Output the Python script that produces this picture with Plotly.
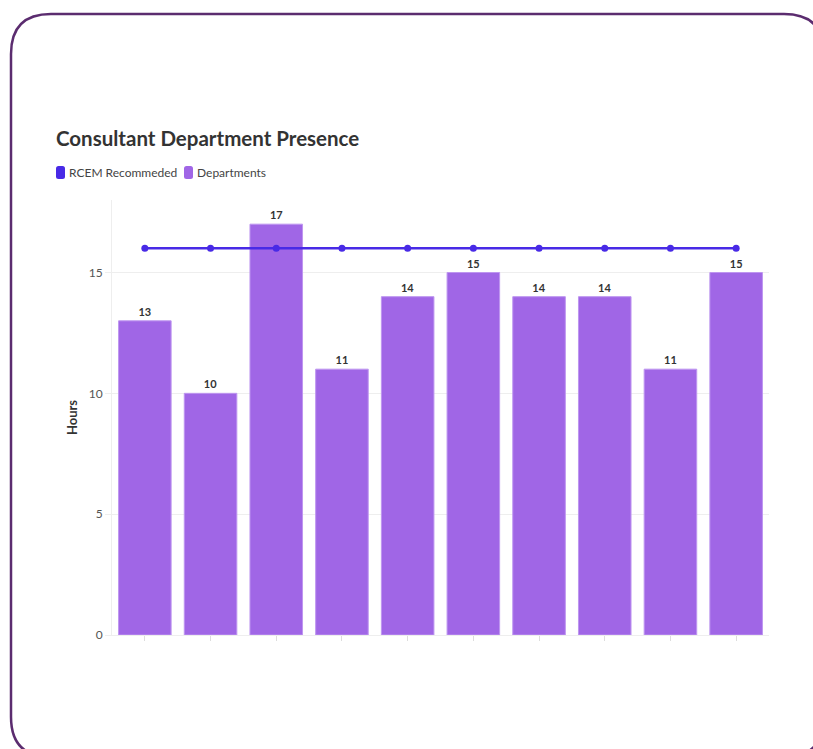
import plotly.graph_objects as go

# Consultant presence per department (hours) and the RCEM recommendation
departments = ["Dept 1", "Dept 2", "Dept 3", "Dept 4", "Dept 5",
               "Dept 6", "Dept 7", "Dept 8", "Dept 9", "Dept 10"]
hours = [13, 10, 17, 11, 14, 15, 14, 14, 11, 15]
rcem_recommended = [16, 16, 16, 16, 16, 16, 16, 16, 16, 16]

W, H = 813, 749
L, R, T, B = 112, 44, 200, 114
PW, PH = W - L - R, H - T - B

BAR_COLOR = "rgb(160,102,230)"
LINE_COLOR = "rgb(72,42,230)"
FONT = "Lato"


def px(x):
    return (x - L) / PW


def py(y):
    return (H - B - y) / PH


def rounded_rect(x0, y0, x1, y1, r):
    # rounded rectangle path in paper coordinates, from pixel corners
    pts = [
        f"M {px(x0 + r)},{py(y0)}",
        f"L {px(x1 - r)},{py(y0)}",
        f"Q {px(x1)},{py(y0)} {px(x1)},{py(y0 + r)}",
        f"L {px(x1)},{py(y1 - r)}",
        f"Q {px(x1)},{py(y1)} {px(x1 - r)},{py(y1)}",
        f"L {px(x0 + r)},{py(y1)}",
        f"Q {px(x0)},{py(y1)} {px(x0)},{py(y1 - r)}",
        f"L {px(x0)},{py(y0 + r)}",
        f"Q {px(x0)},{py(y0)} {px(x0 + r)},{py(y0)}",
        "Z",
    ]
    return " ".join(pts)


fig = go.Figure()

fig.add_trace(go.Bar(
    x=departments, y=hours, name="Departments",
    marker=dict(color=BAR_COLOR, line=dict(color="rgba(190,150,240,1)", width=1)),
    text=hours, textposition="outside", cliponaxis=False,
    textfont=dict(family=FONT, size=11, color="#333333", weight="bold"),
    showlegend=False,
))

fig.add_trace(go.Scatter(
    x=departments, y=rcem_recommended, name="RCEM Recommeded",
    mode="lines+markers",
    line=dict(color=LINE_COLOR, width=2.5),
    marker=dict(color=LINE_COLOR, size=7),
    showlegend=False,
))

shapes = [
    dict(type="path", xref="paper", yref="paper",
         path=rounded_rect(11, 14, 824, 757, 40),
         line=dict(color="#5b2c6f", width=2.5), fillcolor="rgba(0,0,0,0)",
         layer="below"),
]

# legend swatches
legend_items = [("RCEM Recommeded", LINE_COLOR, 56), ("Departments", BAR_COLOR, 184)]
annotations = []
for label, color, x0 in legend_items:
    shapes.append(dict(type="path", xref="paper", yref="paper",
                       path=rounded_rect(x0, 166, x0 + 9, 179, 2.5),
                       line=dict(width=0), fillcolor=color))
    annotations.append(dict(text=label, xref="paper", yref="paper",
                            x=px(x0 + 11), y=py(172.5), xanchor="left", yanchor="middle",
                            showarrow=False,
                            font=dict(family=FONT, size=12, color="#444444")))

fig.update_layout(
    width=W, height=H,
    margin=dict(l=L, r=R, t=T, b=B),
    paper_bgcolor="white", plot_bgcolor="white",
    font=dict(family=FONT, color="#555555"),
    title=dict(text="<b>Consultant Department Presence</b>",
               x=56 / W, xref="container", xanchor="left",
               y=1 - 139 / H, yref="container", yanchor="middle",
               font=dict(family=FONT, size=20.5, color="#333333")),
    bargap=0.2,
    shapes=shapes,
    annotations=annotations,
    xaxis=dict(showticklabels=False, ticks="outside", ticklen=5, tickcolor="#dddddd",
               showline=True, linecolor="#eeeeee", showgrid=False, zeroline=False,
               automargin=False, range=[-0.5, len(departments) - 0.5]),
    yaxis=dict(range=[0, 18], tickvals=[0, 5, 10, 15], ticks="outside", ticklen=6,
               tickcolor="#eeeeee", showline=True, linecolor="#eeeeee",
               gridcolor="#eeeeee", zeroline=False, automargin=False,
               tickfont=dict(family=FONT, size=12, color="#555555"),
               title=dict(text="<b>Hours</b>", standoff=8,
                          font=dict(family=FONT, size=13, color="#333333"))),
)

fig.write_html("out.html")
